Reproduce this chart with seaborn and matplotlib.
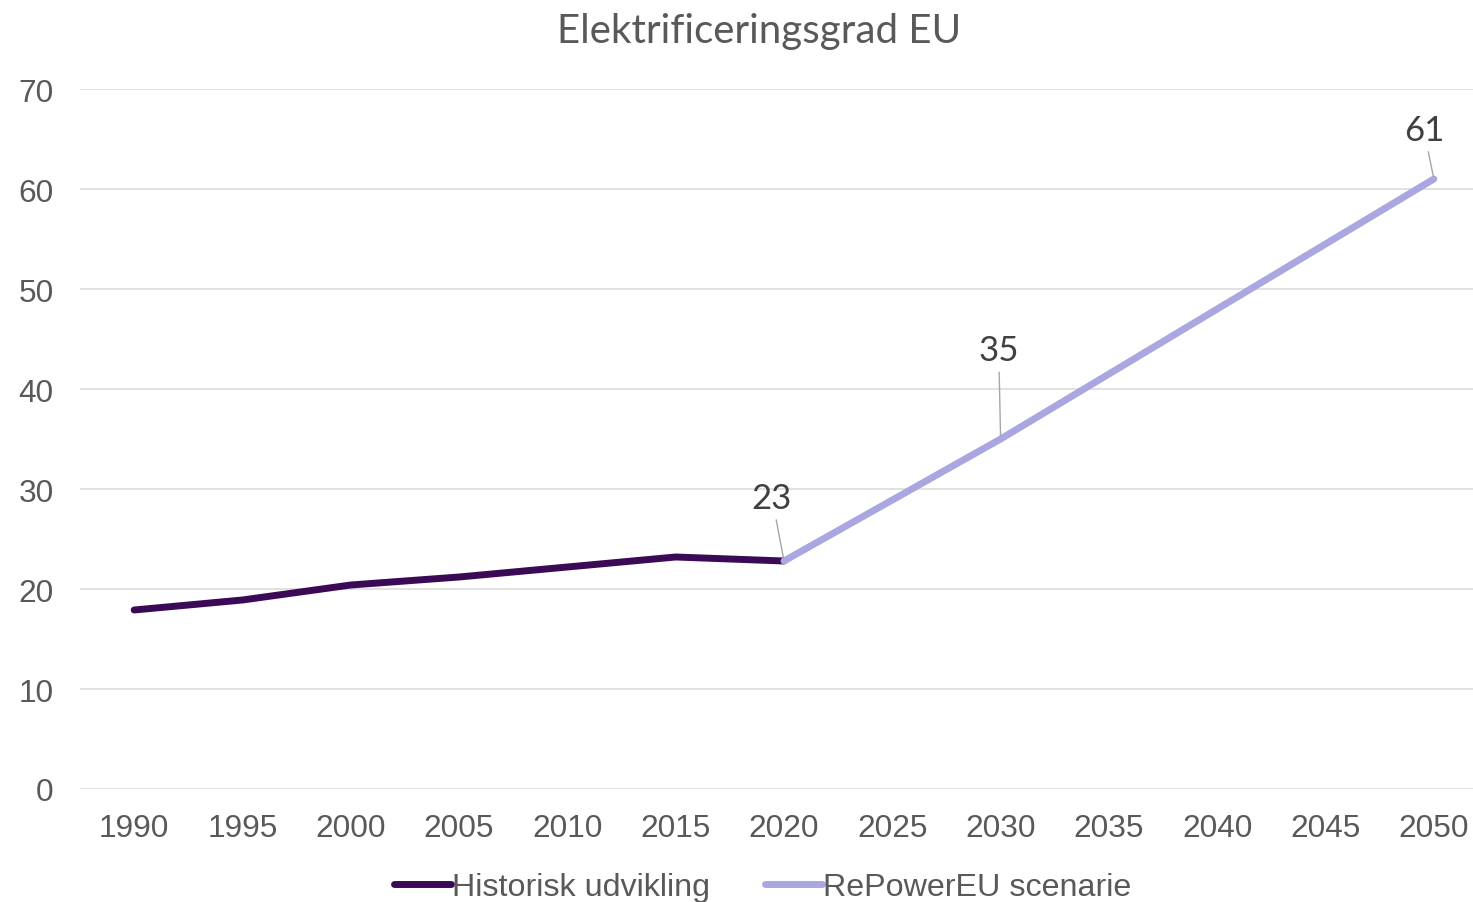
import numpy as np
import pandas as pd
import seaborn as sns
import matplotlib.pyplot as plt

# data
years = [1990, 1995, 2000, 2005, 2010, 2015, 2020, 2025, 2030, 2035, 2040, 2045, 2050]
historisk = [17.9, 18.9, 20.4, 21.2, 22.2, 23.2, 22.8, np.nan, np.nan, np.nan, np.nan, np.nan, np.nan]
repower = [np.nan, np.nan, np.nan, np.nan, np.nan, np.nan, 22.8, np.nan, 35.0, np.nan, np.nan, np.nan, 61.0]
series_names = ["Historisk udvikling", "RePowerEU scenarie"]
label_years = [2020, 2030, 2050]

df = pd.concat([
    pd.DataFrame({"år": years, "værdi": historisk, "serie": series_names[0]}),
    pd.DataFrame({"år": years, "værdi": repower, "serie": series_names[1]}),
]).dropna()

sns.set_style("white")
plt.rcParams["font.family"] = ["Liberation Sans", "DejaVu Sans"]

fig = plt.figure(figsize=(14.73, 9.03), dpi=100)
ax = fig.add_axes([80 / 1473, 1 - 790 / 903, 1408 / 1473, 700 / 903])

colors = {series_names[0]: "#3B0A57", series_names[1]: "#A9A6E0"}
sns.lineplot(data=df, x="år", y="værdi", hue="serie", palette=colors,
             linewidth=5, solid_capstyle="round", legend=False, ax=ax, zorder=3)

ax.set_xlim(1987.5, 2052.5)
ax.set_ylim(0, 70)
ax.set_xticks(years)
ax.set_xticklabels([str(y) for y in years])
ax.set_yticks(range(0, 71, 10))
ax.set_xlabel("")
ax.set_ylabel("")
ax.grid(axis="y", color="#D9D9D9", linewidth=1.1)
ax.grid(axis="x", visible=False)
sns.despine(ax=ax, left=True, bottom=True, top=True, right=True)
ax.tick_params(axis="both", length=0, labelsize=22.8, colors="#595959")
ax.tick_params(axis="y", pad=19)
ax.tick_params(axis="x", pad=17)

# data labels with leader lines
offsets = {2020: (-8.6, 45.5), 2030: (-1.4, 64.0), 2050: (-7.2, 35.5)}
rep = dict(zip(years, repower))
for yr in label_years:
    v = rep[yr]
    ax.annotate(f"{v:.0f}", xy=(yr, v), xytext=offsets[yr], textcoords="offset points",
                ha="center", va="center", fontsize=25, color="#404040",
                family=["Lato", "DejaVu Sans"],
                arrowprops=dict(arrowstyle="-", color="#A6A6A6", lw=1.0,
                                shrinkA=2, shrinkB=2), zorder=4)

fig.text(759 / 1473, 1 - 31 / 903, "Elektrificeringsgrad EU", ha="center", va="center",
         fontsize=29, color="#595959", family=["Lato", "DejaVu Sans"])

handles = ax.get_lines()[:2]
fig.legend(handles, series_names, loc="center", bbox_to_anchor=(763 / 1473, 1 - 888 / 903),
           ncol=2, frameon=False, fontsize=23.2, labelcolor="#595959",
           handlelength=1.75, handletextpad=0.05, columnspacing=1.7)

fig.savefig("out.png", dpi=100)
